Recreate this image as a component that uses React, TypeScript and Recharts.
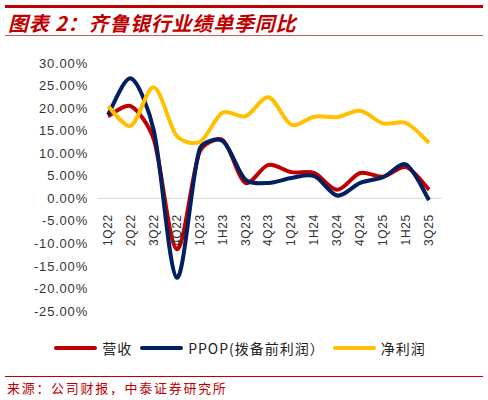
import React from "react";
import { LineChart, Line, XAxis, YAxis, ReferenceLine, Legend } from "recharts";

const QUARTERS = ["1Q22", "2Q22", "3Q22", "4Q22", "1Q23", "1H23", "3Q23", "4Q23", "1Q24", "1H24", "3Q24", "4Q24", "1Q25", "1H25", "3Q25"];
const REVENUE = [18.2, 20.4, 13.0, -11.3, 10.3, 12.9, 3.4, 7.4, 5.8, 5.6, 1.9, 5.6, 4.8, 6.9, 1.9];
const PPOP = [18.5, 26.6, 15.0, -17.6, 11.0, 12.7, 4.1, 3.4, 4.5, 4.9, 0.6, 3.4, 4.7, 7.5, -0.4];
const NET_PROFIT = [20.4, 16.1, 24.6, 13.8, 12.5, 19.0, 18.2, 22.4, 16.3, 18.1, 18.0, 19.4, 16.6, 16.7, 12.3];
const Y_TICKS = [30, 25, 20, 15, 10, 5, 0, -5, -10, -15, -20, -25];
const Y_MIN = -25;
const Y_MAX = 30;

const SERIES = [
  { key: "revenue", name: "营收", color: "#c00000" },
  { key: "ppop", name: "PPOP(拨备前利润）", color: "#002060" },
  { key: "net", name: "净利润", color: "#ffc000" },
];

const data = QUARTERS.map((q, i) => ({
  q,
  revenue: REVENUE[i],
  ppop: PPOP[i],
  net: NET_PROFIT[i],
}));

const W = 488;
const H = 400;
const MARGIN = { top: 63, right: 46, bottom: 49, left: 0 };
const LEGEND_H = 20;
const XAXIS_H = 20;
const PLOT_H = H - MARGIN.top - MARGIN.bottom - LEGEND_H - XAXIS_H;
// distance from plot bottom up to the 0% line
const ZERO_UP = (PLOT_H * (0 - Y_MIN)) / (Y_MAX - Y_MIN);

const FONT = "'Noto Sans CJK SC', 'Liberation Sans', sans-serif";

// Excel-like smoothed line: Catmull-Rom, arms shortened next to much shorter segments
function excelSmooth(ctx: any) {
  let pts: number[][] = [];
  const dist = (a: number[], b: number[]) => Math.hypot(b[0] - a[0], b[1] - a[1]);
  const tan = (i: number) => {
    const a = pts[i - 1] || pts[i];
    const b = pts[i + 1] || pts[i];
    return [(b[0] - a[0]) / 6, (b[1] - a[1]) / 6];
  };
  return {
    areaStart() {},
    areaEnd() {},
    lineStart() {
      pts = [];
    },
    point(x: number, y: number) {
      pts.push([+x, +y]);
    },
    lineEnd() {
      if (!pts.length) return;
      ctx.moveTo(pts[0][0], pts[0][1]);
      for (let i = 0; i < pts.length - 1; i++) {
        const p1 = pts[i];
        const p2 = pts[i + 1];
        const len = dist(p1, p2);
        const prev = i > 0 ? dist(pts[i - 1], p1) : len;
        const next = i + 2 < pts.length ? dist(p2, pts[i + 2]) : len;
        const s1 = Math.min(1, (2 * len) / (prev + len || 1));
        const s2 = Math.min(1, (2 * len) / (len + next || 1));
        const t1 = tan(i);
        const t2 = tan(i + 1);
        ctx.bezierCurveTo(
          p1[0] + t1[0] * s1,
          p1[1] + t1[1] * s1,
          p2[0] - t2[0] * s2,
          p2[1] - t2[1] * s2,
          p2[0],
          p2[1]
        );
      }
    },
  };
}

function QuarterTick(props: any) {
  const { x, y, payload } = props;
  const ty = y - ZERO_UP + 8;
  return (
    <text
      x={x}
      y={ty}
      transform={`rotate(-90, ${x}, ${ty})`}
      textAnchor="end"
      dominantBaseline="central"
      fontSize={12}
      fill="#333"
      fontFamily="'Liberation Sans', sans-serif"
      letterSpacing={0.6}
    >
      {payload.value}
    </text>
  );
}

function LegendBox() {
  return (
    <div style={{ display: "flex", justifyContent: "center", alignItems: "center", height: LEGEND_H, fontFamily: FONT, fontSize: 14, color: "#222" }}>
      {SERIES.map((s) => (
        <div key={s.key} style={{ display: "flex", alignItems: "center", marginRight: 8 }}>
          <div style={{ width: 43, height: 4, borderRadius: 2, background: s.color, marginRight: 5 }} />
          <span style={{ letterSpacing: 1 }}>{s.name}</span>
        </div>
      ))}
    </div>
  );
}

export default function App() {
  return (
    <div style={{ position: "absolute", left: 0, top: 0, width: W, height: H, background: "#fff" }}>
      <div style={{ position: "absolute", left: 5, top: 5, width: 478, height: 2.5, background: "#c00000" }} />
      <div
        style={{
          position: "absolute",
          left: 8,
          top: 9,
          fontFamily: FONT,
          fontSize: 20,
          fontWeight: 700,
          fontStyle: "italic",
          color: "#c00000",
          letterSpacing: 0.8,
          lineHeight: "28px",
          whiteSpace: "nowrap",
        }}
      >
        图表 2：齐鲁银行业绩单季同比
      </div>
      <div style={{ position: "absolute", left: 5, top: 34.5, width: 478, height: 1.5, background: "#d85a5a" }} />

      <LineChart width={W} height={H} data={data} margin={MARGIN}>
        <XAxis
          dataKey="q"
          axisLine={false}
          tickLine={false}
          height={XAXIS_H}
          padding={{ left: 11, right: 13 }}
          interval={0}
          tick={<QuarterTick />}
        />
        <YAxis
          width={97}
          domain={[Y_MIN, Y_MAX]}
          ticks={Y_TICKS}
          axisLine={false}
          tickLine={false}
          tickSize={0}
          tickMargin={9}
          tickFormatter={(v) => `${Number(v).toFixed(2)}%`}
          tick={{ fontSize: 13, fill: "#333", fontFamily: "'Liberation Sans', sans-serif", letterSpacing: 0.8 }}
        />
        <ReferenceLine y={0} stroke="#d9d9d9" strokeWidth={1} />
        <Legend
          verticalAlign="bottom"
          height={LEGEND_H}
          wrapperStyle={{ top: 338, left: 0, width: W }}
          content={() => <LegendBox />}
        />
        {SERIES.map((s) => (
          <Line
            key={s.key}
            type={excelSmooth as any}
            dataKey={s.key}
            name={s.name}
            stroke={s.color}
            strokeWidth={4}
            dot={false}
            activeDot={false}
            isAnimationActive={false}
          />
        ))}
      </LineChart>

      <div style={{ position: "absolute", left: 5, top: 376, width: 478, height: 1, background: "#c00000" }} />
      <div
        style={{
          position: "absolute",
          left: 7,
          top: 379,
          fontFamily: FONT,
          fontSize: 13,
          color: "#c00000",
          letterSpacing: 1.7,
          lineHeight: "18px",
          whiteSpace: "nowrap",
        }}
      >
        来源：公司财报，中泰证券研究所
      </div>
    </div>
  );
}
